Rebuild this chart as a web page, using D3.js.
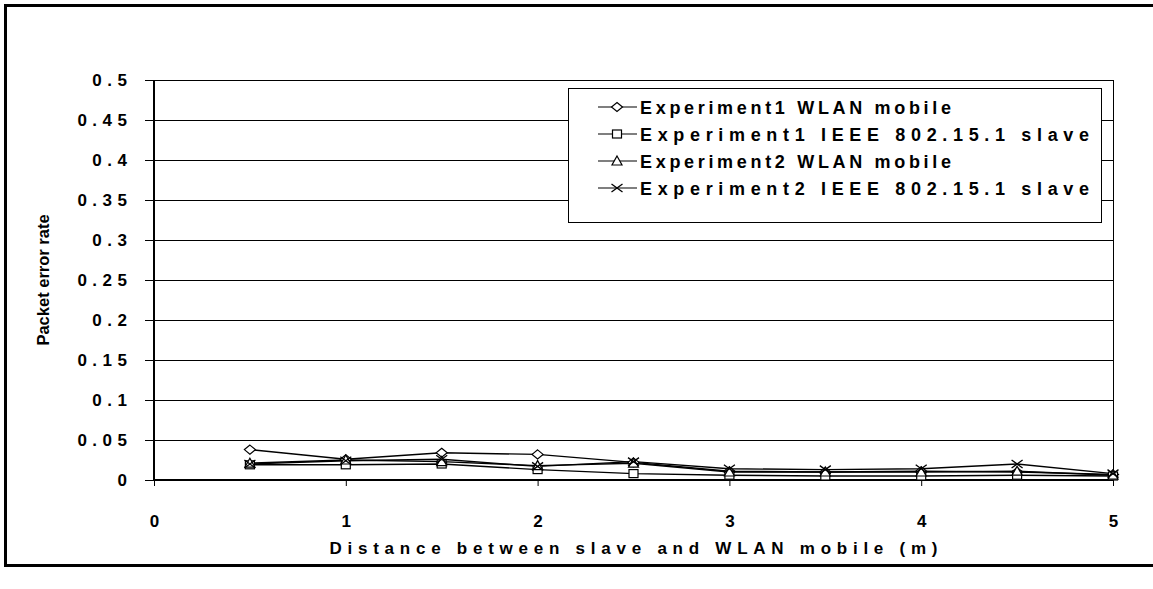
<!DOCTYPE html>
<html>
<head>
<meta charset="utf-8">
<script src="https://cdn.jsdelivr.net/npm/d3@7"></script>
<style>
  html, body { margin: 0; padding: 0; background: #fff; }
  svg { display: block; font-family: "Liberation Sans", Arial, sans-serif; }
</style>
</head>
<body>
<svg id="chart" width="1153" height="589"></svg>
<script>
// Distance between slave and WLAN mobile (m)
const distances = [0.5, 1, 1.5, 2, 2.5, 3, 3.5, 4, 4.5, 5];

// Packet error rate per series
const exp1Wlan  = [0.038, 0.026, 0.034, 0.032, 0.022, 0.011, 0.010, 0.011, 0.010, 0.007];
const exp1Slave = [0.019, 0.019, 0.020, 0.013, 0.008, 0.006, 0.005, 0.005, 0.006, 0.005];
const exp2Wlan  = [0.021, 0.025, 0.023, 0.018, 0.021, 0.010, 0.010, 0.010, 0.011, 0.006];
const exp2Slave = [0.020, 0.024, 0.026, 0.017, 0.023, 0.014, 0.013, 0.014, 0.020, 0.008];

const seriesNames = [
  "Experiment1 WLAN mobile",
  "Experiment1 IEEE 802.15.1 slave",
  "Experiment2 WLAN mobile",
  "Experiment2 IEEE 802.15.1 slave"
];
const seriesMarkers = ["diamond", "square", "triangle", "cross"];

const xTicks = [0, 1, 2, 3, 4, 5];
const yTicks = [0, 0.05, 0.1, 0.15, 0.2, 0.25, 0.3, 0.35, 0.4, 0.45, 0.5];

const series = [exp1Wlan, exp1Slave, exp2Wlan, exp2Slave].map((vals, i) => ({
  name: seriesNames[i],
  marker: seriesMarkers[i],
  points: distances.map((d, j) => ({ x: d, y: vals[j] }))
}));

const svg = d3.select("#chart");
const plot = { left: 154, right: 1113, top: 80, bottom: 480 };

const x = d3.scaleLinear().domain([0, 5]).range([plot.left, plot.right]);
const y = d3.scaleLinear().domain([0, 0.5]).range([plot.bottom, plot.top]);

// outer chart frame
svg.append("path")
  .attr("d", "M1160,5.5 H5.5 V565.5 H1160")
  .attr("fill", "none").attr("stroke", "#000").attr("stroke-width", 3);

// horizontal gridlines
svg.append("g").selectAll("line")
  .data(yTicks.filter(v => v > 0))
  .join("line")
  .attr("x1", plot.left).attr("x2", plot.right)
  .attr("y1", d => Math.round(y(d)) + 0.5).attr("y2", d => Math.round(y(d)) + 0.5)
  .attr("stroke", "#000").attr("stroke-width", 1);

// right border of plot area
svg.append("line")
  .attr("x1", plot.right + 0.5).attr("x2", plot.right + 0.5)
  .attr("y1", plot.top).attr("y2", plot.bottom)
  .attr("stroke", "#000").attr("stroke-width", 1);

const fmtY = d => d === 0 ? "0" : String(d);

// y axis
const yAxis = d3.axisLeft(y).tickValues(yTicks).tickSize(9).tickFormat(fmtY);
const gy = svg.append("g").attr("transform", `translate(${plot.left},0)`).call(yAxis);
gy.select(".domain").attr("stroke-width", 2).attr("d", `M0,${plot.top}V${plot.bottom}`);
gy.selectAll(".tick line").attr("stroke-width", 1);
gy.selectAll(".tick text")
  .attr("x", -21.5)
  .attr("font-size", 17).attr("font-weight", "bold").attr("fill", "#000")
  .attr("letter-spacing", 5.5);

// x axis
const xAxis = d3.axisBottom(x).tickValues(xTicks).tickSize(6).tickFormat(d3.format("d"));
const gx = svg.append("g").attr("transform", `translate(0,${plot.bottom})`).call(xAxis);
gx.select(".domain").attr("stroke-width", 2).attr("d", `M${plot.left},0H${plot.right}`);
gx.selectAll(".tick text")
  .attr("y", 35)
  .attr("font-size", 17).attr("font-weight", "bold").attr("fill", "#000");

// axis titles
svg.append("text")
  .attr("x", x(2.5)).attr("y", 554)
  .attr("text-anchor", "middle")
  .attr("font-size", 17).attr("font-weight", "bold")
  .attr("textLength", 608).attr("lengthAdjust", "spacing")
  .text("Distance between slave and WLAN mobile (m)");

svg.append("text")
  .attr("transform", `translate(49,${(plot.top + plot.bottom) / 2}) rotate(-90)`)
  .attr("text-anchor", "middle")
  .attr("font-size", 16.5).attr("font-weight", "bold")
  .text("Packet error rate");

// marker shapes
function drawMarker(g, kind) {
  if (kind === "diamond") {
    g.append("path").attr("d", "M0,-4.5L5.5,0L0,4.5L-5.5,0Z")
      .attr("fill", "#fff").attr("stroke", "#000").attr("stroke-width", 1.2);
  } else if (kind === "square") {
    g.append("rect").attr("x", -4.5).attr("y", -4).attr("width", 9).attr("height", 8)
      .attr("fill", "#fff").attr("stroke", "#000").attr("stroke-width", 1.2);
  } else if (kind === "triangle") {
    g.append("path").attr("d", "M0,-5L5,4L-5,4Z")
      .attr("fill", "#fff").attr("stroke", "#000").attr("stroke-width", 1.2);
  } else {
    g.append("path").attr("d", "M-5.5,-4L5.5,4M-5.5,4L5.5,-4")
      .attr("fill", "none").attr("stroke", "#000").attr("stroke-width", 1.3);
  }
}

const line = d3.line().x(d => x(d.x)).y(d => y(d.y));

const gSeries = svg.append("g");
series.forEach(s => {
  gSeries.append("path")
    .datum(s.points)
    .attr("d", line)
    .attr("fill", "none").attr("stroke", "#000").attr("stroke-width", 1.4);
});
series.forEach(s => {
  gSeries.append("g").selectAll("g")
    .data(s.points)
    .join("g")
    .attr("transform", d => `translate(${x(d.x)},${y(d.y)})`)
    .each(function () { drawMarker(d3.select(this), s.marker); });
});

// legend
const legend = { x: 568, y: 88, w: 533, h: 134, row: 27 };
const gl = svg.append("g");
gl.append("rect")
  .attr("x", legend.x + 0.5).attr("y", legend.y + 0.5)
  .attr("width", legend.w).attr("height", legend.h)
  .attr("fill", "#fff").attr("stroke", "#000").attr("stroke-width", 1);

const legendWidths = [311, 449, 311, 449];
series.forEach((s, i) => {
  const cy = legend.y + 19 + i * legend.row;
  const row = gl.append("g");
  row.append("line")
    .attr("x1", 598).attr("x2", 637).attr("y1", cy).attr("y2", cy)
    .attr("stroke", "#000").attr("stroke-width", 1.2);
  drawMarker(row.append("g").attr("transform", `translate(617,${cy})`), s.marker);
  row.append("text")
    .attr("x", 640).attr("y", cy + 6.5)
    .attr("font-size", 18).attr("font-weight", "bold")
    .attr("textLength", legendWidths[i]).attr("lengthAdjust", "spacing")
    .text(s.name);
});
</script>
</body>
</html>
